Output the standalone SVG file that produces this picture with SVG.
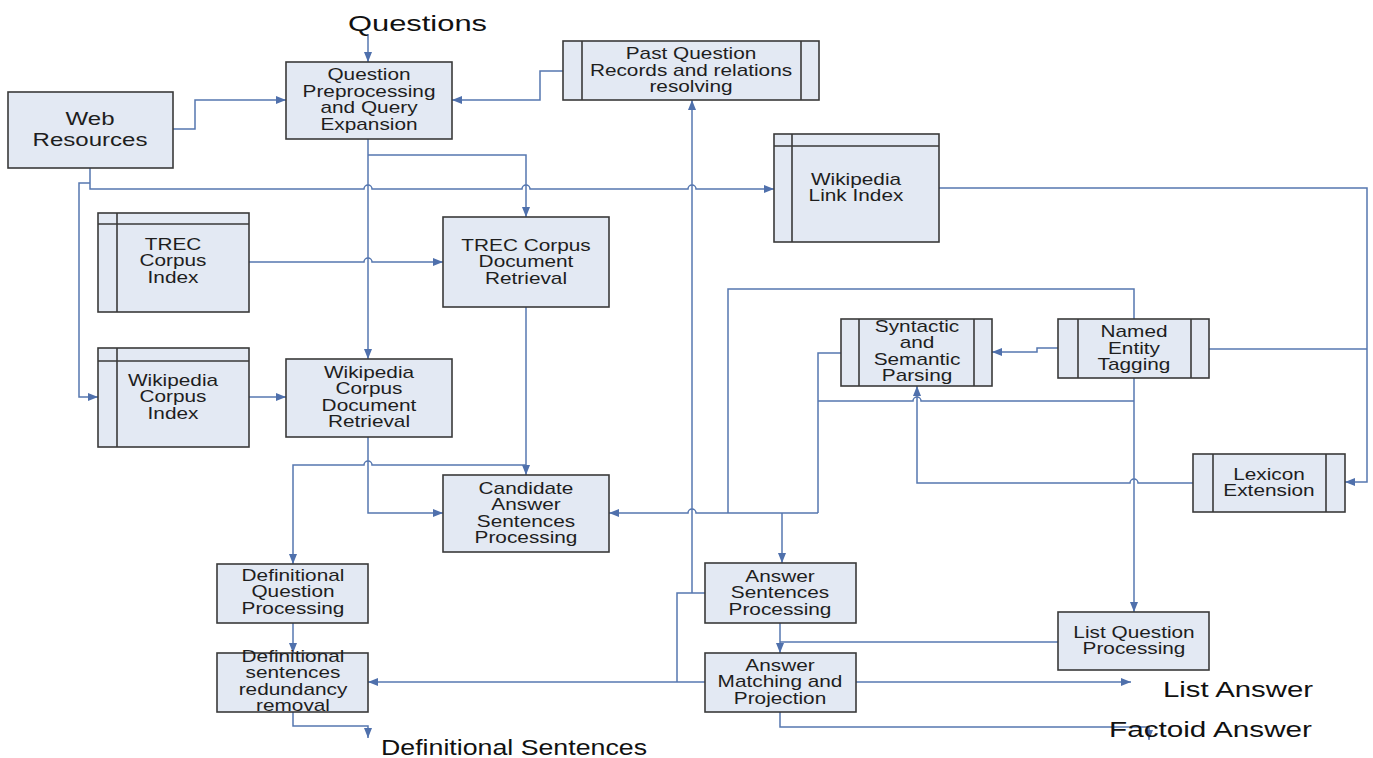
<svg xmlns="http://www.w3.org/2000/svg" width="1373" height="758" viewBox="0 0 1373 758">
<defs>
<style>
.box{fill:#e3e9f3;stroke:#3a3a3a;stroke-width:1.6}
.in{fill:none;stroke:#3a3a3a;stroke-width:1.6}
.t{font-family:"Liberation Sans",Arial,sans-serif;font-size:16px;fill:#1e1e1e;text-anchor:middle}
.tw{font-family:"Liberation Sans",Arial,sans-serif;font-size:18.5px;fill:#1e1e1e;text-anchor:middle}
.c{fill:none;stroke:#5677b0;stroke-width:1.5}
.a{marker-end:url(#ah)}
.lbl{font-family:"Liberation Sans",Arial,sans-serif;font-size:22px;fill:#111}
</style>
<marker id="ah" markerUnits="userSpaceOnUse" markerWidth="10" markerHeight="8" refX="10" refY="4" orient="auto">
<path d="M0,0 L10,4 L0,8 z" fill="#4f70ac"/>
</marker>
</defs>
<rect width="1373" height="758" fill="#ffffff"/>

<g id="connectors">
<path class="c a" d="M368,34 V62"/>
<path class="c a" d="M173,129 H195 V100 H286"/>
<path class="c a" d="M563,71 H540 V100 H452"/>
<path class="c a" d="M90,168 V189 H364 a4,4 0 0 1 8,0 H522 a4,4 0 0 1 8,0 H688 a4,4 0 0 1 8,0 H774"/>
<path class="c a" d="M90,183 H79 V397 H98"/>
<path class="c a" d="M368,139 V359"/>
<path class="c a" d="M368,155 H526 V217"/>
<path class="c a" d="M249,262 H364 a4,4 0 0 1 8,0 H443"/>
<path class="c a" d="M249,397 H286"/>
<path class="c a" d="M526,307 V475"/>
<path class="c a" d="M526,465 H372 a4,4 0 0 0 -8,0 H293 V564"/>
<path class="c a" d="M368,437 V513 H443"/>
<path class="c a" d="M818,513 H696 a4,4 0 0 0 -8,0 H609"/>
<path class="c" d="M1134,319 V289 H728 V513"/>
<path class="c" d="M841,353 H818 V513"/>
<path class="c a" d="M1134,378 V612"/>
<path class="c" d="M1134,401 H921 a4,4 0 0 0 -8,0 H818"/>
<path class="c a" d="M782,513 V563"/>
<path class="c a" d="M1058,348 H1037 V352 H992"/>
<path class="c a" d="M939,188 H1367 V482 H1345"/>
<path class="c" d="M1209,349 H1367"/>
<path class="c a" d="M1193,483 H1138 a4,4 0 0 0 -8,0 H917 V386"/>
<path class="c" d="M1058,642 H780"/>
<path class="c a" d="M780,623 V653"/>
<path class="c a" d="M856,682 H1131"/>
<path class="c a" d="M780,712 V727 H1149 V740"/>
<path class="c" d="M705,593 H677 V682"/>
<path class="c a" d="M692,593 V100"/>
<path class="c a" d="M705,682 H368"/>
<path class="c a" d="M293,623 V653"/>
<path class="c a" d="M293,712 V726 H368 V738"/>
</g>

<g id="n-questions"><text class="lbl" x="348" y="31" textLength="139" lengthAdjust="spacingAndGlyphs">Questions</text></g>

<g id="n-qp">
<rect class="box" x="286" y="62" width="166" height="77"/>
<text class="t" transform="translate(369,0) scale(1.3,1)"><tspan x="0" y="80.5">Question</tspan><tspan x="0" y="97">Preprocessing</tspan><tspan x="0" y="113.5">and Query</tspan><tspan x="0" y="130">Expansion</tspan></text>
</g>

<g id="n-web">
<rect class="box" x="8" y="92" width="165" height="76"/>
<text class="tw" transform="translate(90,0) scale(1.3,1)"><tspan x="0" y="125">Web</tspan><tspan x="0" y="146">Resources</tspan></text>
</g>

<g id="n-pastq">
<rect class="box" x="563" y="41" width="256" height="59"/>
<path class="in" d="M582,41 V100 M801,41 V100"/>
<text class="t" transform="translate(691,0) scale(1.3,1)"><tspan x="0" y="59.5">Past Question</tspan><tspan x="0" y="76">Records and relations</tspan><tspan x="0" y="92.5">resolving</tspan></text>
</g>

<g id="n-wikilink">
<rect class="box" x="774" y="134" width="165" height="108"/>
<path class="in" d="M792,134 V242 M774,146 H939"/>
<text class="t" transform="translate(856,0) scale(1.3,1)"><tspan x="0" y="185">Wikipedia</tspan><tspan x="0" y="201.5">Link Index</tspan></text>
</g>

<g id="n-trecindex">
<rect class="box" x="98" y="213" width="151" height="99"/>
<path class="in" d="M117,213 V312 M98,224 H249"/>
<text class="t" transform="translate(173,0) scale(1.3,1)"><tspan x="0" y="250">TREC</tspan><tspan x="0" y="266.5">Corpus</tspan><tspan x="0" y="283">Index</tspan></text>
</g>

<g id="n-wikiindex">
<rect class="box" x="98" y="348" width="151" height="99"/>
<path class="in" d="M117,348 V447 M98,361 H249"/>
<text class="t" transform="translate(173,0) scale(1.3,1)"><tspan x="0" y="386">Wikipedia</tspan><tspan x="0" y="402.5">Corpus</tspan><tspan x="0" y="419">Index</tspan></text>
</g>

<g id="n-trecdoc">
<rect class="box" x="443" y="217" width="166" height="90"/>
<text class="t" transform="translate(526,0) scale(1.3,1)"><tspan x="0" y="251">TREC Corpus</tspan><tspan x="0" y="267.5">Document</tspan><tspan x="0" y="284">Retrieval</tspan></text>
</g>

<g id="n-wikidoc">
<rect class="box" x="286" y="359" width="166" height="78"/>
<text class="t" transform="translate(369,0) scale(1.3,1)"><tspan x="0" y="378">Wikipedia</tspan><tspan x="0" y="394.5">Corpus</tspan><tspan x="0" y="411">Document</tspan><tspan x="0" y="427.5">Retrieval</tspan></text>
</g>

<g id="n-candidate">
<rect class="box" x="443" y="475" width="166" height="77"/>
<text class="t" transform="translate(526,0) scale(1.3,1)"><tspan x="0" y="494">Candidate</tspan><tspan x="0" y="510.5">Answer</tspan><tspan x="0" y="527">Sentences</tspan><tspan x="0" y="543.5">Processing</tspan></text>
</g>

<g id="n-defq">
<rect class="box" x="217" y="564" width="151" height="59"/>
<text class="t" transform="translate(293,0) scale(1.3,1)"><tspan x="0" y="581">Definitional</tspan><tspan x="0" y="597.5">Question</tspan><tspan x="0" y="614">Processing</tspan></text>
</g>

<g id="n-defs">
<rect class="box" x="217" y="653" width="151" height="59"/>
<text class="t" transform="translate(293,0) scale(1.3,1)"><tspan x="0" y="662">Definitional</tspan><tspan x="0" y="678.5">sentences</tspan><tspan x="0" y="695">redundancy</tspan><tspan x="0" y="711.5">removal</tspan></text>
</g>

<g id="n-ssp">
<rect class="box" x="841" y="319" width="151" height="67"/>
<path class="in" d="M859,319 V386 M974,319 V386"/>
<text class="t" transform="translate(917,0) scale(1.3,1)"><tspan x="0" y="332">Syntactic</tspan><tspan x="0" y="348.5">and</tspan><tspan x="0" y="365">Semantic</tspan><tspan x="0" y="381.5">Parsing</tspan></text>
</g>

<g id="n-net">
<rect class="box" x="1058" y="319" width="151" height="59"/>
<path class="in" d="M1078,319 V378 M1191,319 V378"/>
<text class="t" transform="translate(1134,0) scale(1.3,1)"><tspan x="0" y="337.5">Named</tspan><tspan x="0" y="354">Entity</tspan><tspan x="0" y="370.5">Tagging</tspan></text>
</g>

<g id="n-lexicon">
<rect class="box" x="1193" y="454" width="152" height="58"/>
<path class="in" d="M1213,454 V512 M1326,454 V512"/>
<text class="t" transform="translate(1269,0) scale(1.3,1)"><tspan x="0" y="480">Lexicon</tspan><tspan x="0" y="496.5">Extension</tspan></text>
</g>

<g id="n-asp">
<rect class="box" x="705" y="563" width="151" height="60"/>
<text class="t" transform="translate(780,0) scale(1.3,1)"><tspan x="0" y="582">Answer</tspan><tspan x="0" y="598.5">Sentences</tspan><tspan x="0" y="615">Processing</tspan></text>
</g>

<g id="n-amp">
<rect class="box" x="705" y="653" width="151" height="59"/>
<text class="t" transform="translate(780,0) scale(1.3,1)"><tspan x="0" y="671">Answer</tspan><tspan x="0" y="687.5">Matching and</tspan><tspan x="0" y="704">Projection</tspan></text>
</g>

<g id="n-lqp">
<rect class="box" x="1058" y="612" width="151" height="58"/>
<text class="t" transform="translate(1134,0) scale(1.3,1)"><tspan x="0" y="638">List Question</tspan><tspan x="0" y="654.5">Processing</tspan></text>
</g>

<g id="n-listanswer"><text class="lbl" x="1163" y="697" textLength="150" lengthAdjust="spacingAndGlyphs">List Answer</text></g>
<g id="n-factoid"><text class="lbl" x="1109" y="737" textLength="203" lengthAdjust="spacingAndGlyphs">Factoid Answer</text></g>
<g id="n-defsent"><text class="lbl" x="381" y="755" textLength="266" lengthAdjust="spacingAndGlyphs">Definitional Sentences</text></g>
</svg>
